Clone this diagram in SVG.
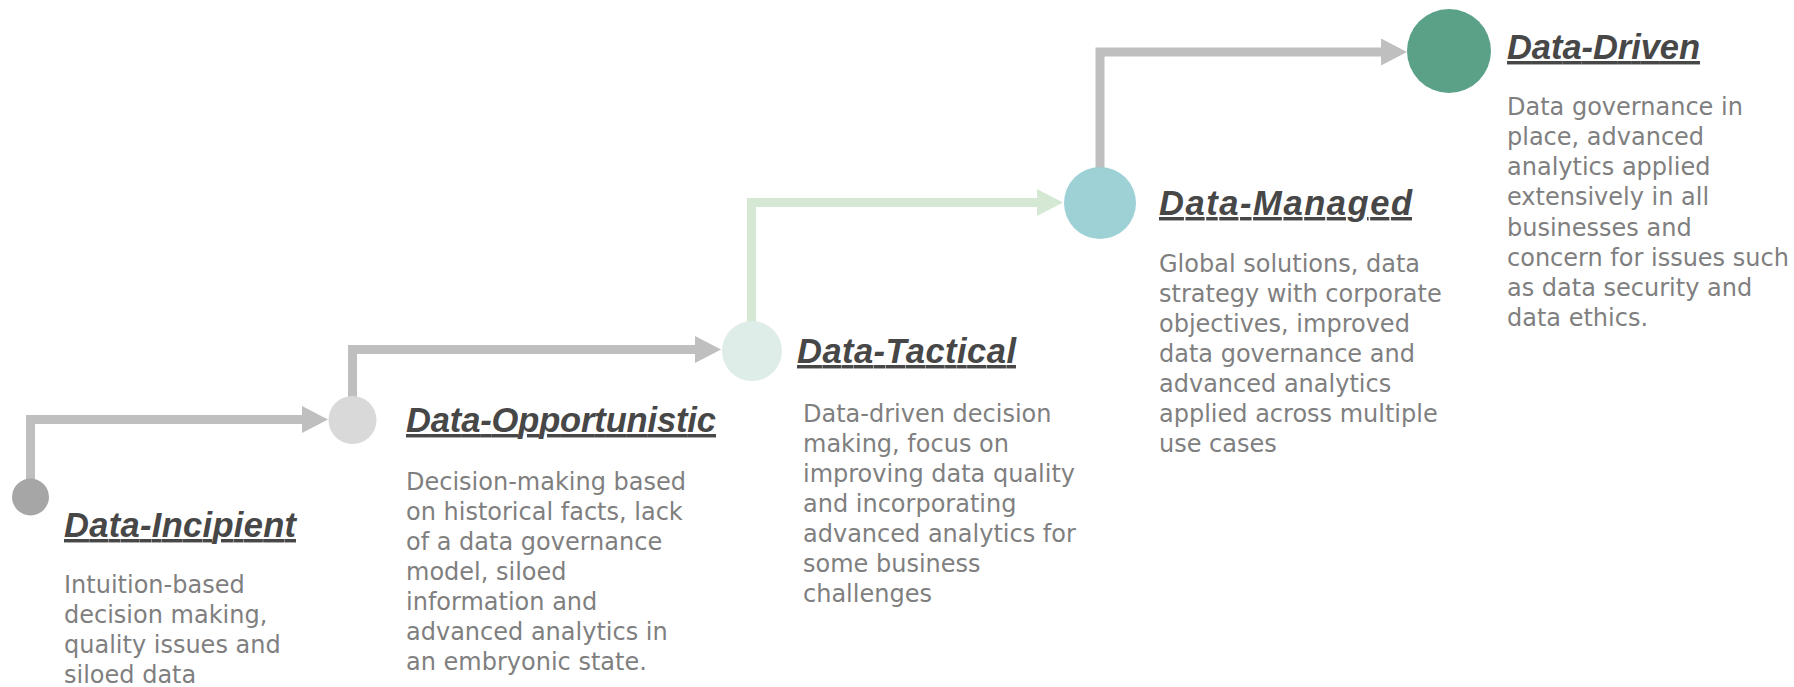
<svg xmlns="http://www.w3.org/2000/svg" width="1794" height="687" viewBox="0 0 1794 687">
<style>
.title{font-family:"Liberation Sans",Arial,sans-serif;font-weight:bold;font-style:italic;font-size:34.5px;fill:#474747;text-decoration:underline;}
.body{font-family:"DejaVu Sans",sans-serif;font-size:24px;fill:#7f7f7f;}
.conn{fill:none;stroke-width:9;stroke-linejoin:miter;stroke-linecap:butt;}
.gray{stroke:#bfbfbf;}
.green{stroke:#d5e8d4;}
</style>
<defs>
<marker id="arrGray" markerUnits="userSpaceOnUse" markerWidth="27" markerHeight="27" refX="0" refY="13.5" orient="auto">
<path d="M0,0 L26,13.5 L0,27 z" fill="#bfbfbf"/>
</marker>
<marker id="arrGreen" markerUnits="userSpaceOnUse" markerWidth="27" markerHeight="27" refX="0" refY="13.5" orient="auto">
<path d="M0,0 L26,13.5 L0,27 z" fill="#d5e8d4"/>
</marker>
</defs>
<rect width="1794" height="687" fill="#ffffff"/>
<g id="connectors">
<path class="conn gray" d="M30.5,497 V419.5 H302" marker-end="url(#arrGray)"/>
<path class="conn gray" d="M352.5,420 V349.5 H695" marker-end="url(#arrGray)"/>
<path class="conn green" d="M751.5,351 V202.5 H1037" marker-end="url(#arrGreen)"/>
<path class="conn gray" d="M1100,203 V52 H1381" marker-end="url(#arrGray)"/>
</g>
<g id="data-incipient">
<circle cx="30.5" cy="497" r="18.5" fill="#a6a6a6"/>
<text class="title" x="64" y="537" textLength="232">Data-Incipient</text>
<text class="body" x="64" y="593">Intuition-based</text>
<text class="body" x="64" y="623">decision making,</text>
<text class="body" x="64" y="653">quality issues and</text>
<text class="body" x="64" y="683">siloed data</text>
</g>
<g id="data-opportunistic">
<circle cx="352.5" cy="420" r="24" fill="#d9d9d9"/>
<text class="title" x="406" y="432" textLength="310">Data-Opportunistic</text>
<text class="body" x="406" y="490">Decision-making based</text>
<text class="body" x="406" y="520">on historical facts, lack</text>
<text class="body" x="406" y="550">of a data governance</text>
<text class="body" x="406" y="580">model, siloed</text>
<text class="body" x="406" y="610">information and</text>
<text class="body" x="406" y="640">advanced analytics in</text>
<text class="body" x="406" y="670">an embryonic state.</text>
</g>
<g id="data-tactical">
<circle cx="752" cy="351" r="30" fill="#deede8"/>
<text class="title" x="797" y="363" textLength="219">Data-Tactical</text>
<text class="body" x="803" y="422">Data-driven decision</text>
<text class="body" x="803" y="452">making, focus on</text>
<text class="body" x="803" y="482">improving data quality</text>
<text class="body" x="803" y="512">and incorporating</text>
<text class="body" x="803" y="542">advanced analytics for</text>
<text class="body" x="803" y="572">some business</text>
<text class="body" x="803" y="602">challenges</text>
</g>
<g id="data-managed">
<circle cx="1100" cy="203" r="36" fill="#9dd1d6"/>
<text class="title" x="1159" y="215" textLength="253">Data-Managed</text>
<text class="body" x="1159" y="272">Global solutions, data</text>
<text class="body" x="1159" y="302">strategy with corporate</text>
<text class="body" x="1159" y="332">objectives, improved</text>
<text class="body" x="1159" y="362">data governance and</text>
<text class="body" x="1159" y="392">advanced analytics</text>
<text class="body" x="1159" y="422">applied across multiple</text>
<text class="body" x="1159" y="452">use cases</text>
</g>
<g id="data-driven">
<circle cx="1449" cy="51" r="42" fill="#5aa188"/>
<text class="title" x="1507" y="59" textLength="193">Data-Driven</text>
<text class="body" x="1507" y="115">Data governance in</text>
<text class="body" x="1507" y="145">place, advanced</text>
<text class="body" x="1507" y="175">analytics applied</text>
<text class="body" x="1507" y="205">extensively in all</text>
<text class="body" x="1507" y="236">businesses and</text>
<text class="body" x="1507" y="266">concern for issues such</text>
<text class="body" x="1507" y="296">as data security and</text>
<text class="body" x="1507" y="326">data ethics.</text>
</g>
</svg>
